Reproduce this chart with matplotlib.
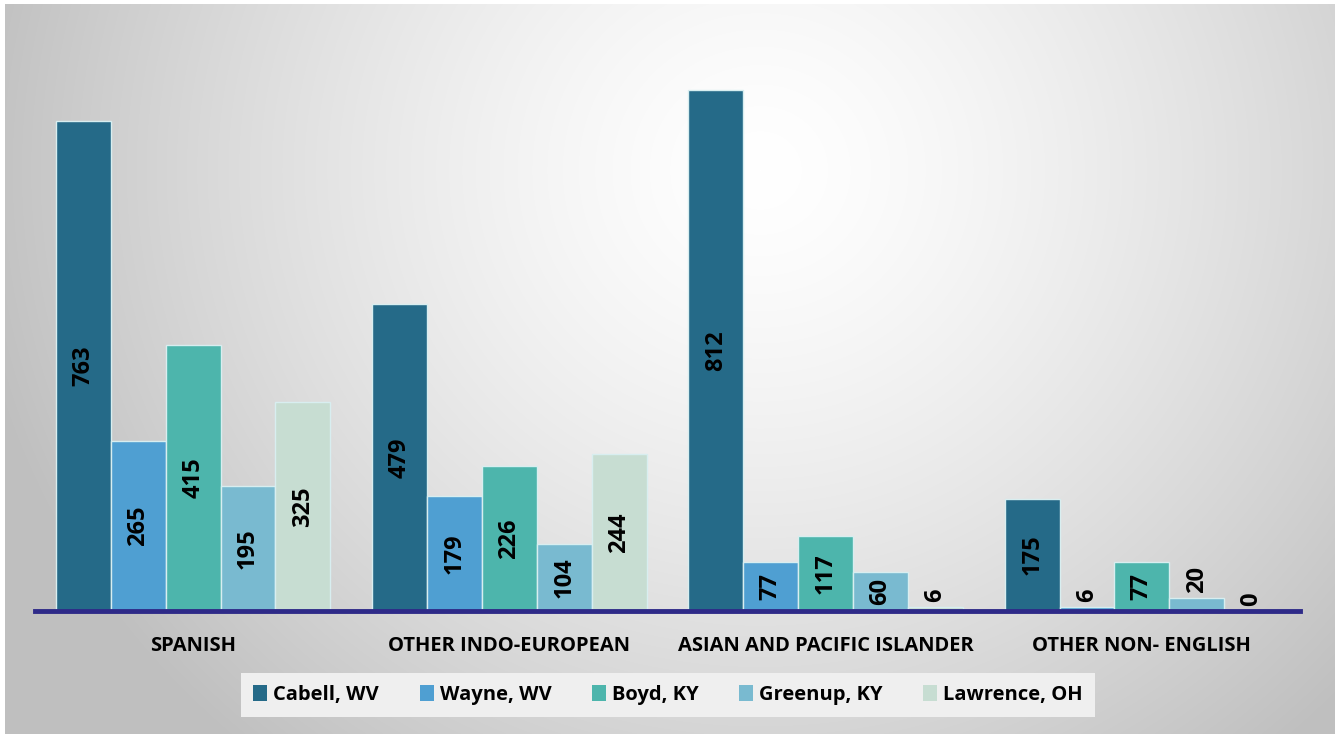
import numpy as np
import matplotlib
matplotlib.use("Agg")
import matplotlib.pyplot as plt
from matplotlib.patches import Patch

# data
categories = ["SPANISH", "OTHER INDO-EUROPEAN", "ASIAN AND PACIFIC ISLANDER", "OTHER NON- ENGLISH"]
counties = ["Cabell, WV", "Wayne, WV", "Boyd, KY", "Greenup, KY", "Lawrence, OH"]
cabell = [763, 479, 812, 175]
wayne = [265, 179, 77, 6]
boyd = [415, 226, 117, 77]
greenup = [195, 104, 60, 20]
lawrence = [325, 244, 6, 0]
series = [cabell, wayne, boyd, greenup, lawrence]
colors = ["#256A88", "#4F9FD2", "#4DB5AC", "#79BAD0", "#C7DDD2"]

FONT = "Open Sans"

W, H = 1335, 734
fig = plt.figure(figsize=(W / 100, H / 100), dpi=100)
fig.patch.set_facecolor("white")

# radial gradient background
bg = fig.add_axes((5 / W, 0, 1 - 5 / W, 1 - 4 / H))
bg.set_axis_off()
yy, xx = np.mgrid[4:H, 5:W]
d = np.sqrt((xx - 760.0) ** 2 + ((yy - 170.0) * 1.05) ** 2) / 800.0
shade = 1.0 - 0.25 * np.clip(d, 0, 1) ** 1.4
img = np.dstack([shade, shade, shade])
bg.imshow(img, aspect="auto", extent=(0, 1, 0, 1), interpolation="bilinear")
bg.set_xlim(0, 1)
bg.set_ylim(0, 1)

ax = fig.add_axes((35 / W, 1 - 611 / H, 1265 / W, (611 - 59) / H))
ax.set_facecolor("none")

n = len(series)
bw = 0.1735
x = np.arange(len(categories))
px_per_unit = (611 - 59) / 860.0
for i, vals in enumerate(series):
    xs = x + (i - (n - 1) / 2) * bw
    ax.bar(xs, vals, width=bw, color=colors[i], edgecolor="#D8EEF0", linewidth=1.0,
           label=counties[i], zorder=2)
    for xv, v in zip(xs, vals):
        if v * px_per_unit > 30:
            ax.text(xv, v / 2, str(v), rotation=90, ha="center", va="center",
                    fontsize=17, fontweight="bold", family=FONT, color="black", zorder=3)
        else:
            ax.text(xv, v + 8, str(v), rotation=90, ha="center", va="bottom",
                    fontsize=17, fontweight="bold", family=FONT, color="black", zorder=3)

ax.set_xlim(-0.5, 3.5)
ax.set_ylim(0, 860)
ax.set_yticks([])
ax.set_xticks(x)
ax.set_xticklabels(categories, fontsize=14.5, fontweight="bold", family=FONT)
ax.tick_params(axis="x", length=0, pad=18)
for s in ["top", "right", "left"]:
    ax.spines[s].set_visible(False)
ax.spines["bottom"].set_color("#2E2A88")
ax.spines["bottom"].set_linewidth(3.5)
ax.spines["bottom"].set_zorder(4)

handles = [Patch(facecolor=c, edgecolor="none") for c in colors]
leg = fig.legend(handles, counties, loc="center", bbox_to_anchor=(668 / W, 1 - 695 / H),
                 ncol=5, frameon=True, fancybox=False, handlelength=0.7, handleheight=0.8,
                 handletextpad=0.3, columnspacing=2.0, borderpad=0.6,
                 prop={"family": FONT, "weight": "bold", "size": 14.5})
leg.get_frame().set_facecolor("#EFEFEF")
leg.get_frame().set_edgecolor("none")
leg.get_frame().set_alpha(1.0)

fig.savefig("out.png", dpi=100)
